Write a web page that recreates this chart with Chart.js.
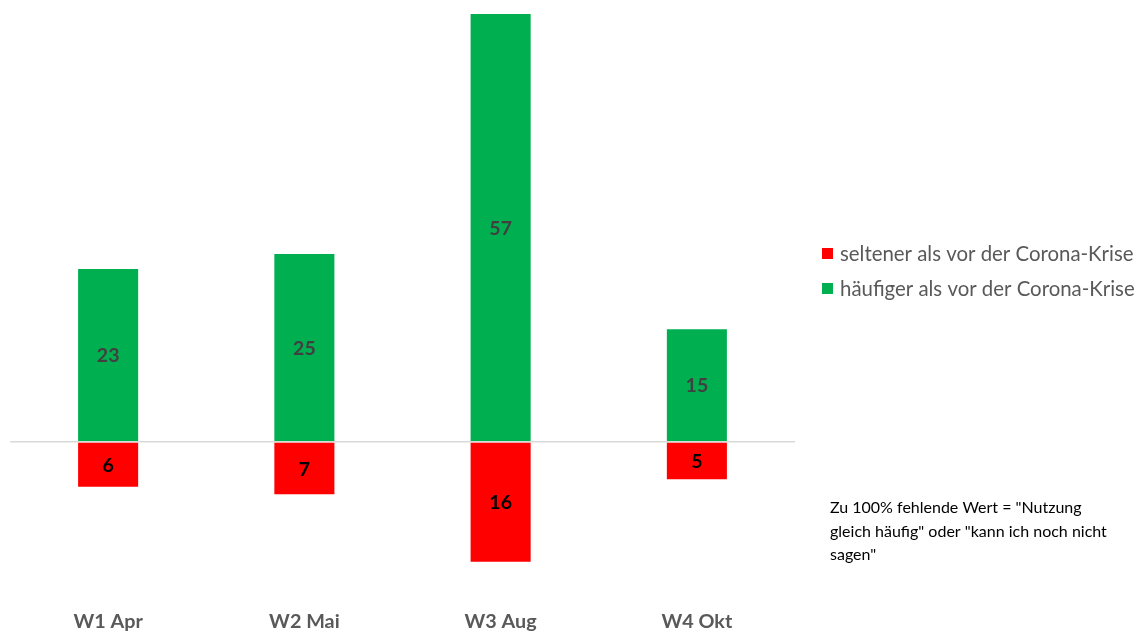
<!DOCTYPE html>
<html><head><meta charset="utf-8">
<script src="https://cdn.jsdelivr.net/npm/chart.js@4/dist/chart.umd.min.js"></script>
<style>html,body{margin:0;padding:0;background:#fff}#wrap{width:1141px;height:633px}</style>
</head><body><div id="wrap"><canvas id="c" width="1141" height="633"></canvas></div>
<script>
const categories = ["W1 Apr", "W2 Mai", "W3 Aug", "W4 Okt"];
const seltener = [6, 7, 16, 5];
const haeufiger = [23, 25, 57, 15];
const seriesNames = ["seltener als vor der Corona-Krise", "häufiger als vor der Corona-Krise"];
const noteLines = ["Zu 100% fehlende Wert = \"Nutzung", "gleich häufig\" oder \"kann ich noch nicht", "sagen\""];

const FONT = "Lato, 'Open Sans', sans-serif";

const labelPlugin = {
  id: 'labels',
  afterDatasetsDraw(chart) {
    const ctx = chart.ctx;
    ctx.save();
    ctx.textAlign = 'center';
    ctx.textBaseline = 'middle';
    ctx.font = "bold 19.5px " + FONT;
    chart.data.datasets.forEach((ds, i) => {
      const meta = chart.getDatasetMeta(i);
      meta.data.forEach((el, j) => {
        ctx.fillStyle = ds.labelColor;
        ctx.fillText(String(Math.abs(ds.data[j])), el.x, (el.y + el.base) / 2 + 1);
      });
    });
    ctx.restore();
  },
  afterDraw(chart) {
    const ctx = chart.ctx;
    ctx.save();
    ctx.textBaseline = 'middle';
    ctx.textAlign = 'left';
    ctx.font = "20.4px " + FONT;
    const ys = [254, 289];
    chart.data.datasets.forEach((ds, i) => {
      ctx.fillStyle = ds.backgroundColor;
      ctx.fillRect(822, ys[i] - 6, 11, 11);
      ctx.fillStyle = '#595959';
      ctx.fillText(ds.label, 840, ys[i]);
    });
    ctx.font = "16px " + FONT;
    ctx.fillStyle = '#000';
    noteLines.forEach((t, k) => ctx.fillText(t, 830, 508 + k * 23.5));
    ctx.restore();
  }
};

new Chart(document.getElementById('c'), {
  type: 'bar',
  data: {
    labels: categories,
    datasets: [
      { label: seriesNames[0], data: seltener.map(v => -v), backgroundColor: '#ff0000', labelColor: '#000000' },
      { label: seriesNames[1], data: haeufiger, backgroundColor: '#00b050', labelColor: '#404040' }
    ]
  },
  options: {
    responsive: false,
    animation: false,
    layout: { padding: { left: 10, right: 346, top: 14, bottom: -17 } },
    datasets: { bar: { barPercentage: 0.306, categoryPercentage: 1 } },
    plugins: { legend: { display: false }, tooltip: { enabled: false } },
    scales: {
      x: {
        stacked: true,
        grid: { display: false },
        border: { display: false },
        ticks: { color: '#595959', font: { family: FONT, size: 19.8, weight: 'bold' }, padding: 17 }
      },
      y: {
        stacked: true,
        min: -19, max: 57,
        afterBuildTicks: s => { s.ticks = [{ value: 0 }]; },
        ticks: { display: false },
        border: { display: false },
        grid: { z: 1, lineWidth: 1.5, drawTicks: false, color: '#d9d9d9' }
      }
    }
  },
  plugins: [labelPlugin]
});
</script>
</body></html>
